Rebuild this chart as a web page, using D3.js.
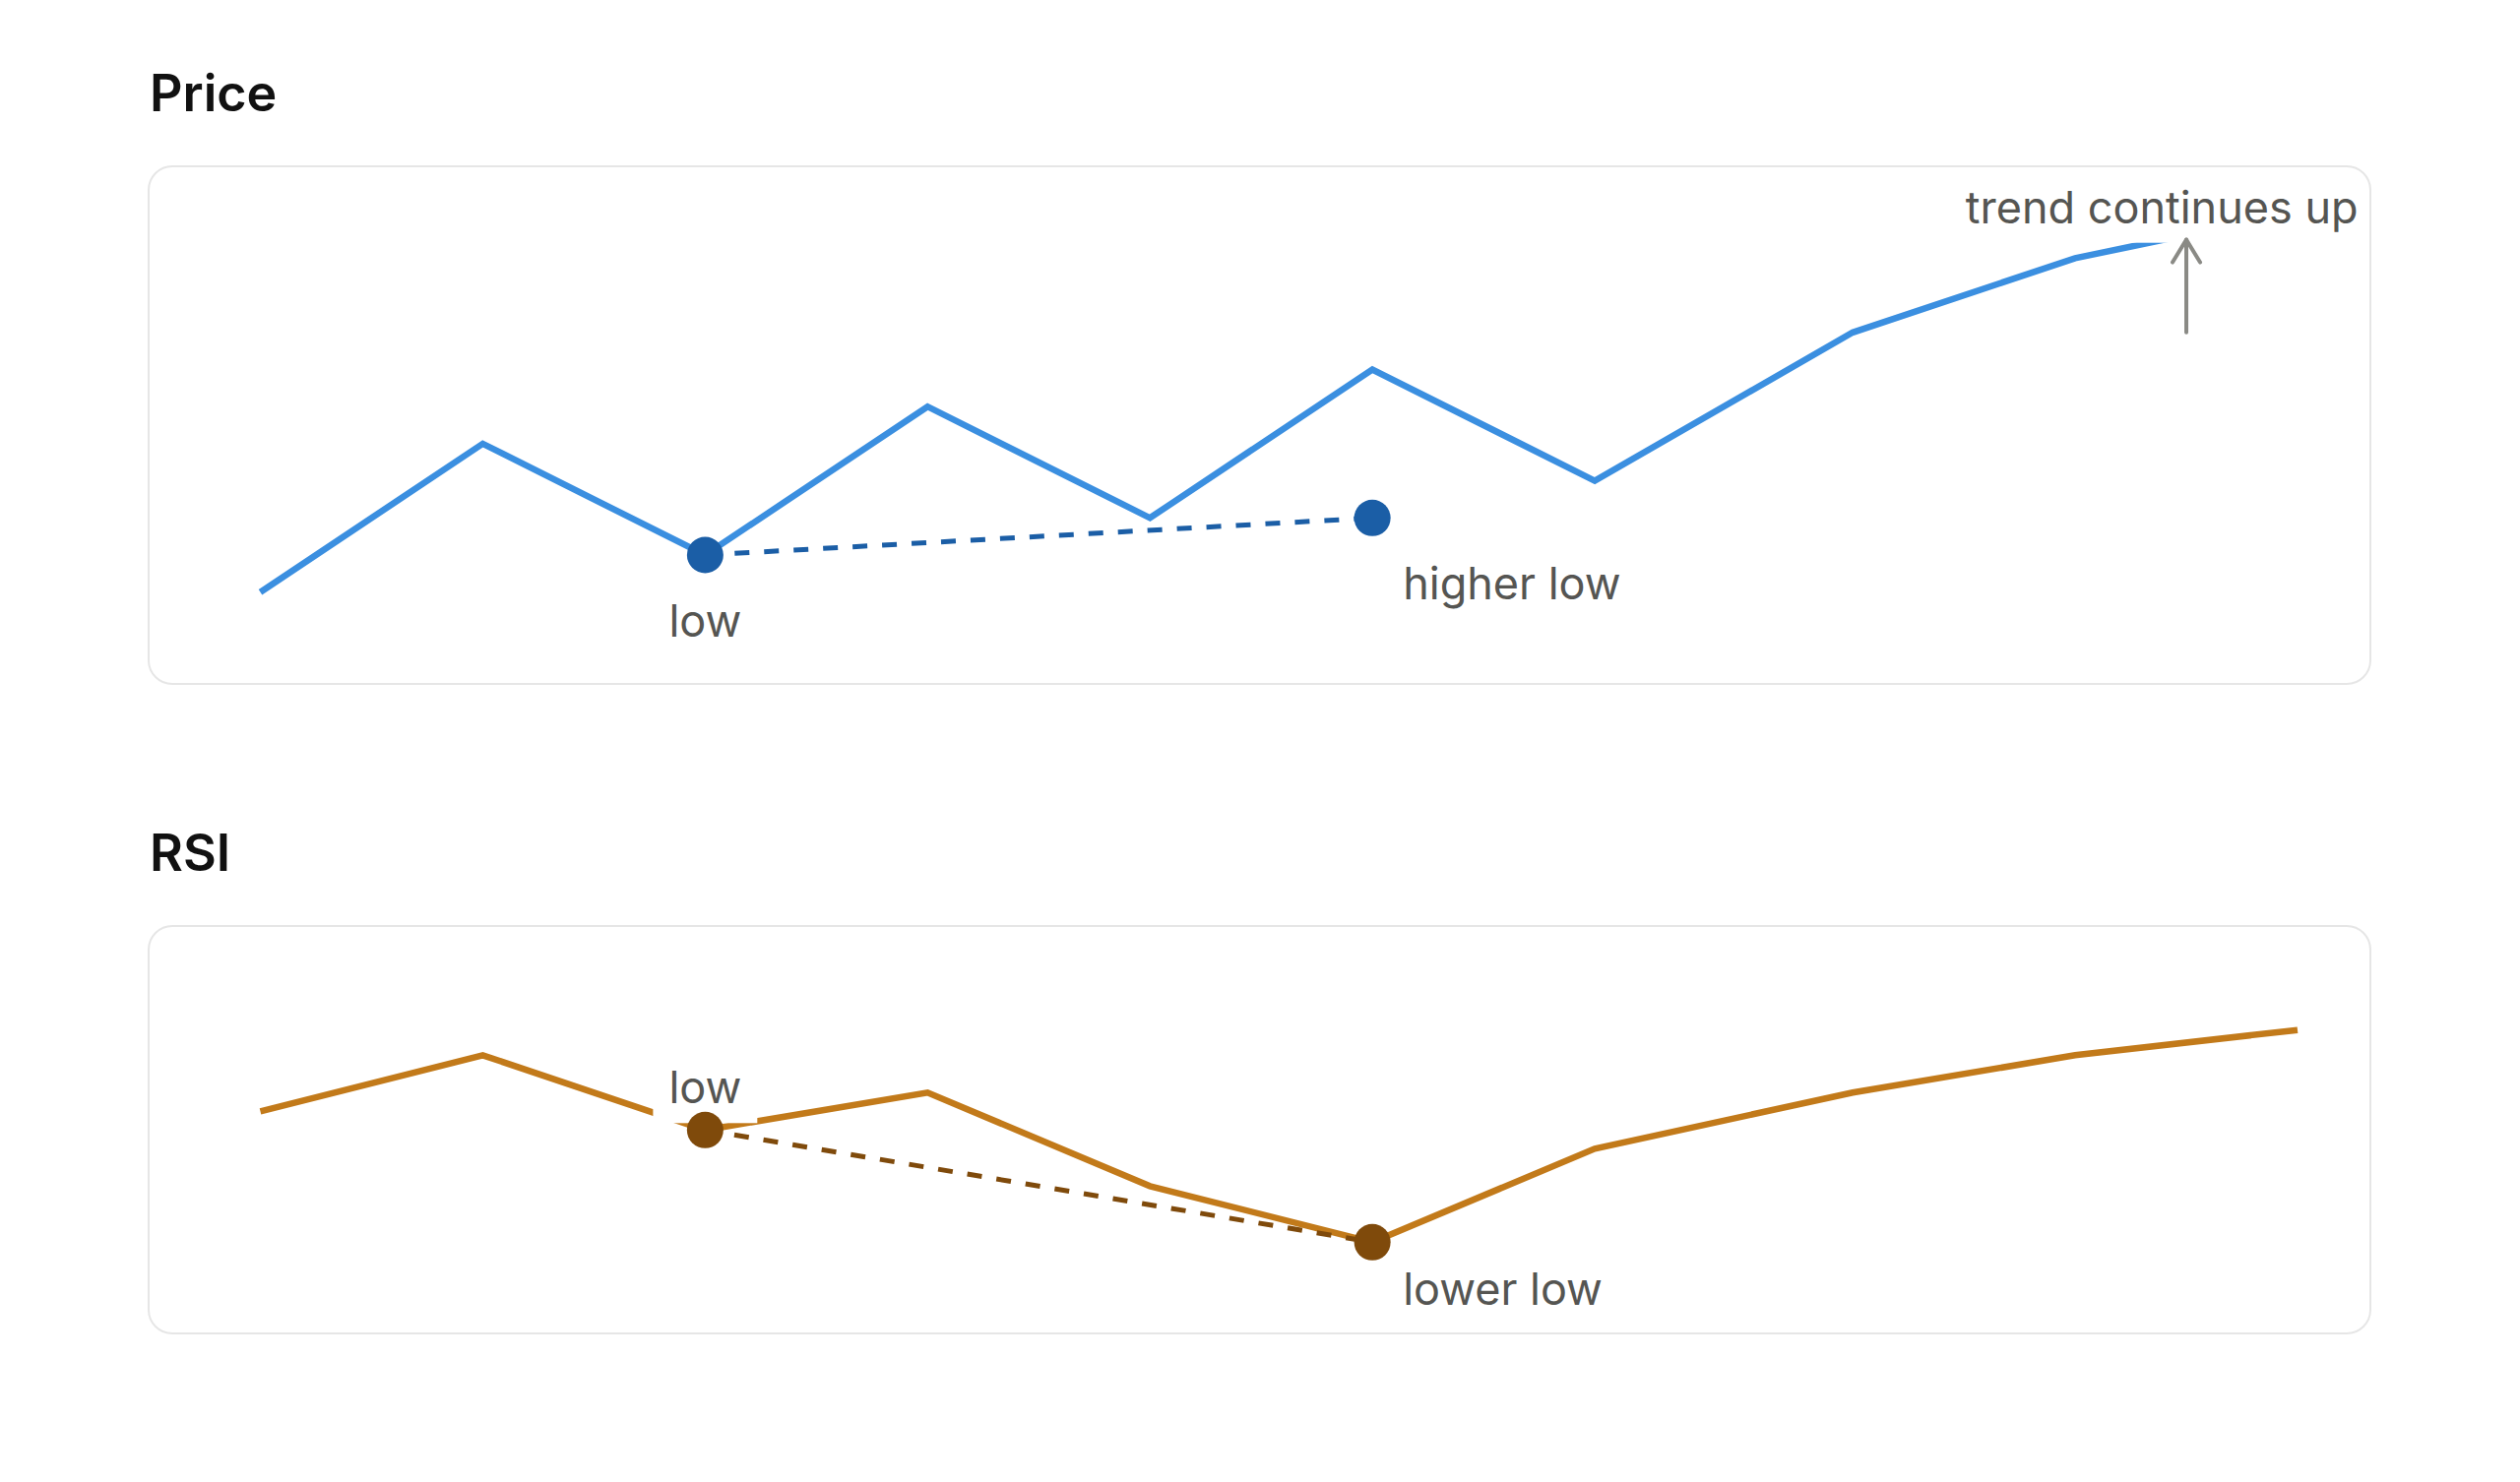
<!DOCTYPE html>
<html>
<head>
<meta charset="utf-8">
<script src="https://cdn.jsdelivr.net/npm/d3@7/dist/d3.min.js"></script>
<style>
  body { margin: 0; background: #fff; }
  svg { display: block; }
</style>
</head>
<body>
<div id="chart"></div>
<script>
// shared x positions (bar index, last three a bit further apart)
let xIdx = [0, 1, 2, 3, 4, 5, 6, 7.16, 8.16, 9.16];
let priceVals = [100, 108, 102, 110, 104, 112, 106, 114, 118, 120.5];
let rsiVals = [55, 61, 53, 57, 47, 41, 51, 57, 61, 63.7];

// divergence markers
let priceLowX = [2, 5],
    priceLowVals = [102, 104],
    priceLowLabels = ["low", "higher low"];
let rsiLowX = [2, 5],
    rsiLowVals = [53, 41],
    rsiLowLabels = ["low", "lower low"];

// trend annotation
let trendLabel = "trend continues up",
    trendLabelX = 8.55,
    trendLabelVal = 120,
    trendArrowX = 8.66,
    trendArrowVals = [114, 119];

let panelTitles = ["Price", "RSI"];

{
  let sizex = 2560,
      sizey = 1506;

  var svg = d3.select("#chart")
    .append("svg")
      .attr("width", sizex)
      .attr("height", sizey);

  var font = "Inter, 'Noto Sans', sans-serif";

  // panels
  var panels = [{top: 169, height: 526}, {top: 941, height: 414}];
  panels.forEach(function(p, i) {
    svg.append("rect")
      .attr("x", 151)
      .attr("y", p.top)
      .attr("width", 2257)
      .attr("height", p.height)
      .attr("rx", 24)
      .attr("fill", "#fff");
    svg.append("text")
      .attr("x", 152)
      .attr("y", p.top - 56)
      .style("font", "600 52px " + font)
      .attr("fill", "#111")
      .text(panelTitles[i]);
  });

  // scales
  var x = d3.scaleLinear()
    .domain([0, 9.16])
    .range([264.5, 2334]);
  var yPrice = d3.scaleLinear()
    .domain([100, 120])
    .range([601.7, 224.7]);
  var yRsi = d3.scaleLinear()
    .domain([40, 65])
    .range([1271.8, 1034.3]);

  function series(vals, y, color) {
    var line = d3.line()
      .x((d, i) => x(xIdx[i]))
      .y(d => y(d));
    svg.append("path")
      .datum(vals)
      .attr("d", line)
      .attr("fill", "none")
      .attr("stroke", color)
      .attr("stroke-width", 6.5);
  }

  function dashed(xs, vals, y, color) {
    svg.append("line")
      .attr("x1", x(xs[0])).attr("y1", y(vals[0]))
      .attr("x2", x(xs[1])).attr("y2", y(vals[1]))
      .attr("stroke", color)
      .attr("stroke-width", 5)
      .attr("stroke-dasharray", "15,15");
  }

  function dots(xs, vals, y, color) {
    xs.forEach(function(d, i) {
      svg.append("circle")
        .attr("cx", x(d))
        .attr("cy", y(vals[i]))
        .attr("r", 18.5)
        .attr("fill", color);
    });
  }

  // label with white backing, like the original
  function label(px, py, txt, anchor) {
    var g = svg.append("g");
    var bg = g.append("rect").attr("fill", "#fff");
    var t = g.append("text")
      .attr("x", px)
      .attr("y", py)
      .attr("text-anchor", anchor)
      .style("font", "400 45px " + font)
      .attr("fill", "#555552")
      .text(txt);
    var b = t.node().getBBox();
    bg.attr("x", b.x - 16)
      .attr("y", b.y - 9)
      .attr("width", b.width + 32)
      .attr("height", b.height + 18);
  }

  var priceLine = "#3b8fe0", priceDot = "#1b5ea6";
  var rsiLine = "#c27a1a", rsiDot = "#7f4a0b";

  // price panel
  series(priceVals, yPrice, priceLine);
  dashed(priceLowX, priceLowVals, yPrice, priceDot);
  label(x(priceLowX[0]), yPrice(priceLowVals[0]) + 83, priceLowLabels[0], "middle");
  label(x(priceLowX[1]) + 31, yPrice(priceLowVals[1]) + 83, priceLowLabels[1], "start");
  label(x(trendLabelX), yPrice(trendLabelVal) + 2, trendLabel, "middle");

  var ax = x(trendArrowX),
      ay0 = yPrice(trendArrowVals[0]),
      ay1 = yPrice(trendArrowVals[1]);
  svg.append("path")
    .attr("d", d3.line()([[ax, ay0], [ax, ay1]]))
    .attr("stroke", "#8a8a85")
    .attr("stroke-width", 4)
    .attr("stroke-linecap", "round");
  svg.append("path")
    .attr("d", d3.line()([[ax - 14, ay1 + 23], [ax, ay1], [ax + 14, ay1 + 23]]))
    .attr("fill", "none")
    .attr("stroke", "#8a8a85")
    .attr("stroke-width", 4)
    .attr("stroke-linecap", "round")
    .attr("stroke-linejoin", "round");
  dots(priceLowX, priceLowVals, yPrice, priceDot);

  // rsi panel
  series(rsiVals, yRsi, rsiLine);
  dashed(rsiLowX, rsiLowVals, yRsi, rsiDot);
  label(x(rsiLowX[0]), yRsi(rsiLowVals[0]) - 27, rsiLowLabels[0], "middle");
  label(x(rsiLowX[1]) + 31, yRsi(rsiLowVals[1]) + 64, rsiLowLabels[1], "start");
  dots(rsiLowX, rsiLowVals, yRsi, rsiDot);

  // panel outlines on top so label backings never cut them
  panels.forEach(function(p) {
    svg.append("rect")
      .attr("x", 151)
      .attr("y", p.top)
      .attr("width", 2257)
      .attr("height", p.height)
      .attr("rx", 24)
      .attr("fill", "none")
      .attr("stroke", "#e6e6e6")
      .attr("stroke-width", 2);
  });
}
</script>
</body>
</html>
